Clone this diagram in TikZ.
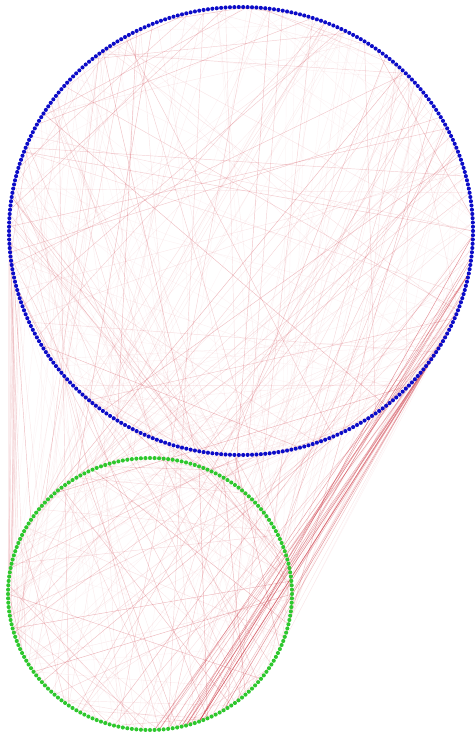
\documentclass[tikz,border=0pt]{standalone}
\definecolor{bluedot}{RGB}{12,12,200}
\definecolor{greendot}{RGB}{45,200,45}
\definecolor{edgecol}{RGB}{205,60,72}
\pgfdeclarelayer{bg}\pgfsetlayers{bg,main}
\begin{document}
\begin{tikzpicture}[x=1pt,y=-1pt,
  bdot/.style={circle,fill=bluedot,inner sep=0pt,minimum size=4.1pt},
  gdot/.style={circle,fill=greendot,inner sep=0pt,minimum size=4.1pt},
  edge/.style={draw=edgecol,line width=0.45pt}]
\useasboundingbox (0,0) rectangle (475,735);
\foreach \i in {1,...,330}{
  \pgfmathsetmacro\t{360/330*\i}
  \node[bdot] (b\i) at ({241+232*cos(\t)},{231+224*sin(\t)}) {};
}
\foreach \i in {1,...,196}{
  \pgfmathsetmacro\t{360/196*\i}
  \node[gdot] (g\i) at ({150+142*cos(\t)},{594+136*sin(\t)}) {};
}
\pgfmathsetseed{7}
\begin{pgfonlayer}{bg}
% blue-blue
\foreach \k in {1,...,170}{
  \pgfmathtruncatemacro\a{random(1,330)}
  \pgfmathtruncatemacro\c{random(1,330)}
  \pgfmathsetmacro\o{0.05+0.32*rnd^3}
  \draw[edge,opacity=\o] (b\a.center) -- (b\c.center);
}
% blue-green
\foreach \k in {1,...,200}{
  \pgfmathtruncatemacro\a{random(1,330)}
  \pgfmathtruncatemacro\c{random(1,196)}
  \pgfmathsetmacro\o{0.05+0.32*rnd^3}
  \draw[edge,opacity=\o] (b\a.center) -- (g\c.center);
}
% green-green
\foreach \k in {1,...,110}{
  \pgfmathtruncatemacro\a{random(1,196)}
  \pgfmathtruncatemacro\c{random(1,196)}
  \pgfmathsetmacro\o{0.05+0.32*rnd^3}
  \draw[edge,opacity=\o] (g\a.center) -- (g\c.center);
}
% bundle: blue right -> green bottom right
\foreach \k in {1,...,20}{
  \pgfmathtruncatemacro\a{random(1,34)}
  \pgfmathtruncatemacro\c{random(32,48)}
  \pgfmathsetmacro\o{0.2+0.45*rnd}
  \draw[edge,opacity=\o] (b\a.center) -- (g\c.center);
}
% bundle: blue left -> green left
\foreach \k in {1,...,14}{
  \pgfmathtruncatemacro\a{random(145,165)}
  \pgfmathtruncatemacro\c{random(86,110)}
  \pgfmathsetmacro\o{0.06+0.15*rnd}
  \draw[edge,opacity=\o] (b\a.center) -- (g\c.center);
}
\end{pgfonlayer}
\end{tikzpicture}
\end{document}
